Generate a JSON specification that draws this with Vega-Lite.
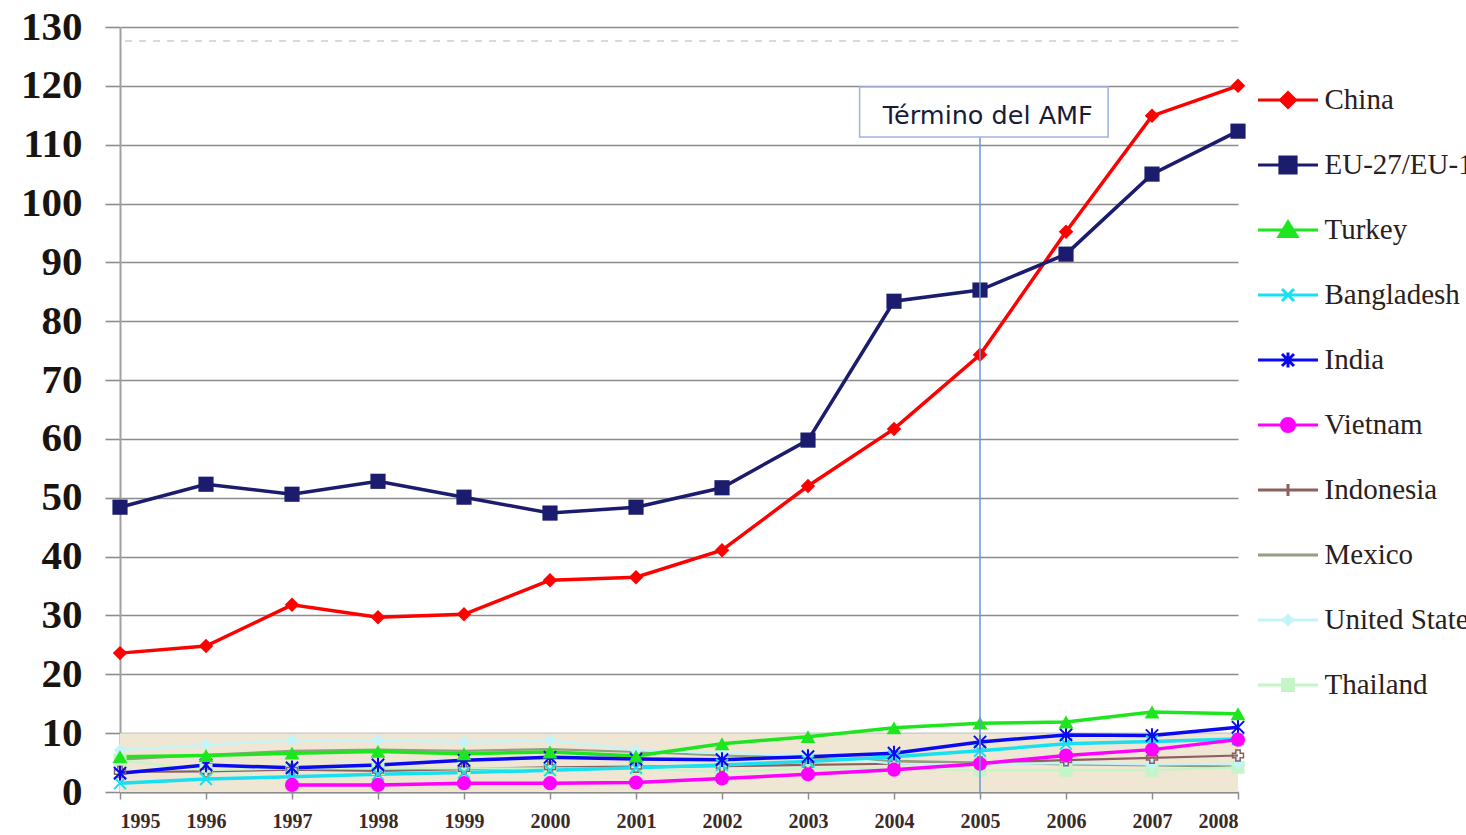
{
  "$schema": "https://vega.github.io/schema/vega-lite/v6.json",
  "autosize": "none",
  "width": 1118,
  "height": 765,
  "padding": {"left": 120, "top": 27, "right": 228, "bottom": 43},
  "background": "white",
  "config": {
    "view": {"stroke": null},
    "axis": {"labelFont": "Liberation Serif", "titleFont": "Liberation Serif"}
  },
  "data": {
    "values": [
      {"country": "China", "year": 1995, "value": 23.6},
      {"country": "China", "year": 1996, "value": 24.8},
      {"country": "China", "year": 1997, "value": 31.8},
      {"country": "China", "year": 1998, "value": 29.7},
      {"country": "China", "year": 1999, "value": 30.2},
      {"country": "China", "year": 2000, "value": 36.0},
      {"country": "China", "year": 2001, "value": 36.5},
      {"country": "China", "year": 2002, "value": 41.1},
      {"country": "China", "year": 2003, "value": 52.0},
      {"country": "China", "year": 2004, "value": 61.7},
      {"country": "China", "year": 2005, "value": 74.3},
      {"country": "China", "year": 2006, "value": 95.2},
      {"country": "China", "year": 2007, "value": 114.9},
      {"country": "China", "year": 2008, "value": 120.0},
      {"country": "EU-27/EU-15", "year": 1995, "value": 48.4},
      {"country": "EU-27/EU-15", "year": 1996, "value": 52.3},
      {"country": "EU-27/EU-15", "year": 1997, "value": 50.6},
      {"country": "EU-27/EU-15", "year": 1998, "value": 52.8},
      {"country": "EU-27/EU-15", "year": 1999, "value": 50.1},
      {"country": "EU-27/EU-15", "year": 2000, "value": 47.4},
      {"country": "EU-27/EU-15", "year": 2001, "value": 48.4},
      {"country": "EU-27/EU-15", "year": 2002, "value": 51.7},
      {"country": "EU-27/EU-15", "year": 2003, "value": 59.8},
      {"country": "EU-27/EU-15", "year": 2004, "value": 83.4},
      {"country": "EU-27/EU-15", "year": 2005, "value": 85.3},
      {"country": "EU-27/EU-15", "year": 2006, "value": 91.4},
      {"country": "EU-27/EU-15", "year": 2007, "value": 105.0},
      {"country": "EU-27/EU-15", "year": 2008, "value": 112.3},
      {"country": "Turkey", "year": 1995, "value": 6.0},
      {"country": "Turkey", "year": 1996, "value": 6.2},
      {"country": "Turkey", "year": 1997, "value": 6.6},
      {"country": "Turkey", "year": 1998, "value": 6.9},
      {"country": "Turkey", "year": 1999, "value": 6.5},
      {"country": "Turkey", "year": 2000, "value": 6.8},
      {"country": "Turkey", "year": 2001, "value": 6.1},
      {"country": "Turkey", "year": 2002, "value": 8.2},
      {"country": "Turkey", "year": 2003, "value": 9.4},
      {"country": "Turkey", "year": 2004, "value": 10.9},
      {"country": "Turkey", "year": 2005, "value": 11.7},
      {"country": "Turkey", "year": 2006, "value": 11.9},
      {"country": "Turkey", "year": 2007, "value": 13.6},
      {"country": "Turkey", "year": 2008, "value": 13.3},
      {"country": "Bangladesh", "year": 1995, "value": 1.5},
      {"country": "Bangladesh", "year": 1996, "value": 2.2},
      {"country": "Bangladesh", "year": 1997, "value": 2.6},
      {"country": "Bangladesh", "year": 1998, "value": 3.0},
      {"country": "Bangladesh", "year": 1999, "value": 3.3},
      {"country": "Bangladesh", "year": 2000, "value": 3.7},
      {"country": "Bangladesh", "year": 2001, "value": 4.1},
      {"country": "Bangladesh", "year": 2002, "value": 4.6},
      {"country": "Bangladesh", "year": 2003, "value": 5.2},
      {"country": "Bangladesh", "year": 2004, "value": 6.0},
      {"country": "Bangladesh", "year": 2005, "value": 7.0},
      {"country": "Bangladesh", "year": 2006, "value": 8.2},
      {"country": "Bangladesh", "year": 2007, "value": 8.6},
      {"country": "Bangladesh", "year": 2008, "value": 9.0},
      {"country": "India", "year": 1995, "value": 3.2},
      {"country": "India", "year": 1996, "value": 4.6},
      {"country": "India", "year": 1997, "value": 4.1},
      {"country": "India", "year": 1998, "value": 4.6},
      {"country": "India", "year": 1999, "value": 5.4},
      {"country": "India", "year": 2000, "value": 5.9},
      {"country": "India", "year": 2001, "value": 5.6},
      {"country": "India", "year": 2002, "value": 5.5},
      {"country": "India", "year": 2003, "value": 6.0},
      {"country": "India", "year": 2004, "value": 6.6},
      {"country": "India", "year": 2005, "value": 8.5},
      {"country": "India", "year": 2006, "value": 9.7},
      {"country": "India", "year": 2007, "value": 9.6},
      {"country": "India", "year": 2008, "value": 11.0},
      {"country": "Vietnam", "year": 1997, "value": 1.2},
      {"country": "Vietnam", "year": 1998, "value": 1.2},
      {"country": "Vietnam", "year": 1999, "value": 1.5},
      {"country": "Vietnam", "year": 2000, "value": 1.5},
      {"country": "Vietnam", "year": 2001, "value": 1.6},
      {"country": "Vietnam", "year": 2002, "value": 2.3},
      {"country": "Vietnam", "year": 2003, "value": 3.0},
      {"country": "Vietnam", "year": 2004, "value": 3.8},
      {"country": "Vietnam", "year": 2005, "value": 4.8},
      {"country": "Vietnam", "year": 2006, "value": 6.2},
      {"country": "Vietnam", "year": 2007, "value": 7.2},
      {"country": "Vietnam", "year": 2008, "value": 8.9},
      {"country": "Indonesia", "year": 1995, "value": 3.4},
      {"country": "Indonesia", "year": 1996, "value": 3.5},
      {"country": "Indonesia", "year": 1997, "value": 3.8},
      {"country": "Indonesia", "year": 1998, "value": 3.6},
      {"country": "Indonesia", "year": 1999, "value": 3.9},
      {"country": "Indonesia", "year": 2000, "value": 4.2},
      {"country": "Indonesia", "year": 2001, "value": 4.3},
      {"country": "Indonesia", "year": 2002, "value": 4.4},
      {"country": "Indonesia", "year": 2003, "value": 4.6},
      {"country": "Indonesia", "year": 2004, "value": 4.8},
      {"country": "Indonesia", "year": 2005, "value": 5.0},
      {"country": "Indonesia", "year": 2006, "value": 5.4},
      {"country": "Indonesia", "year": 2007, "value": 5.8},
      {"country": "Indonesia", "year": 2008, "value": 6.2},
      {"country": "Mexico", "year": 1995, "value": 5.5},
      {"country": "Mexico", "year": 1996, "value": 6.3},
      {"country": "Mexico", "year": 1997, "value": 7.0},
      {"country": "Mexico", "year": 1998, "value": 7.2},
      {"country": "Mexico", "year": 1999, "value": 7.0},
      {"country": "Mexico", "year": 2000, "value": 7.3},
      {"country": "Mexico", "year": 2001, "value": 6.8},
      {"country": "Mexico", "year": 2002, "value": 6.2},
      {"country": "Mexico", "year": 2003, "value": 5.8},
      {"country": "Mexico", "year": 2004, "value": 5.3},
      {"country": "Mexico", "year": 2005, "value": 5.0},
      {"country": "Mexico", "year": 2006, "value": 4.7},
      {"country": "Mexico", "year": 2007, "value": 4.5},
      {"country": "Mexico", "year": 2008, "value": 4.3},
      {"country": "United States", "year": 1995, "value": 7.1},
      {"country": "United States", "year": 1996, "value": 8.0},
      {"country": "United States", "year": 1997, "value": 8.8},
      {"country": "United States", "year": 1998, "value": 8.8},
      {"country": "United States", "year": 1999, "value": 8.5},
      {"country": "United States", "year": 2000, "value": 8.8},
      {"country": "United States", "year": 2001, "value": 7.1},
      {"country": "United States", "year": 2002, "value": 6.6},
      {"country": "United States", "year": 2003, "value": 6.3},
      {"country": "United States", "year": 2004, "value": 4.8},
      {"country": "United States", "year": 2005, "value": 4.7},
      {"country": "United States", "year": 2006, "value": 4.9},
      {"country": "United States", "year": 2007, "value": 4.7},
      {"country": "United States", "year": 2008, "value": 4.8},
      {"country": "Thailand", "year": 1995, "value": 5.4},
      {"country": "Thailand", "year": 1996, "value": 3.7},
      {"country": "Thailand", "year": 1997, "value": 4.0},
      {"country": "Thailand", "year": 1998, "value": 4.0},
      {"country": "Thailand", "year": 1999, "value": 4.0},
      {"country": "Thailand", "year": 2000, "value": 4.0},
      {"country": "Thailand", "year": 2001, "value": 4.0},
      {"country": "Thailand", "year": 2002, "value": 3.4},
      {"country": "Thailand", "year": 2003, "value": 4.0},
      {"country": "Thailand", "year": 2004, "value": 4.0},
      {"country": "Thailand", "year": 2005, "value": 3.7},
      {"country": "Thailand", "year": 2006, "value": 3.7},
      {"country": "Thailand", "year": 2007, "value": 3.7},
      {"country": "Thailand", "year": 2008, "value": 4.2}
    ]
  },
  "encoding": {
    "x": {
      "field": "year", "type": "quantitative",
      "scale": {"domain": [1995, 2008], "nice": false, "zero": false},
      "axis": {
        "values": [1995, 1996, 1997, 1998, 1999, 2000, 2001, 2002, 2003, 2004, 2005, 2006, 2007, 2008],
        "format": "d", "title": null, "grid": false,
        "tickSize": 7, "tickColor": "#8c8c8c", "tickWidth": 1.5,
        "domainColor": "#8c8c8c", "domainWidth": 2,
        "labelFont": "Liberation Serif", "labelFontSize": 20, "labelFontWeight": "bold",
        "labelColor": "#3a2a2a", "labelPadding": 12, "labelOverlap": false, "labelBound": false
      }
    },
    "y": {
      "field": "value", "type": "quantitative",
      "scale": {"domain": [0, 130], "nice": false, "zero": true},
      "axis": {
        "values": [0, 10, 20, 30, 40, 50, 60, 70, 80, 90, 100, 110, 120, 130],
        "title": null, "grid": true, "gridColor": "#8c8c8c", "gridWidth": 1.6,
        "tickSize": 15, "tickColor": "#8c8c8c", "tickWidth": 1.6,
        "domainColor": "#a0a0a0", "domainWidth": 2,
        "labelFont": "Liberation Serif", "labelFontSize": 41, "labelFontWeight": "bold",
        "labelColor": "#1a1410", "labelPadding": 23, "labelOverlap": false, "labelBound": false
      }
    },
    "color": {
      "field": "country", "type": "nominal",
      "scale": {
        "domain": ["China", "EU-27/EU-15", "Turkey", "Bangladesh", "India", "Vietnam", "Indonesia", "Mexico", "United States", "Thailand"],
        "range": ["#FF0000", "#1C1C6E", "#1EE61E", "#18E0F0", "#0A0AF0", "#FF00FF", "#8B6060", "#8FA080", "#C2F4FA", "#C4F5C6"]
      },
      "legend": null
    }
  },
  "layer": [
    {
      "transform": [{"filter": "false"}],
      "mark": {"type": "point", "filled": true, "opacity": 1, "strokeWidth": 3},
      "encoding": {
        "x": null,
        "y": null,
        "color": {
          "field": "country", "type": "nominal",
          "legend": {
            "orient": "none", "legendX": 1138, "legendY": 41.5, "title": null,
            "symbolSize": 3600, "symbolStrokeWidth": 3, "symbolOffset": -1.5, "rowPadding": 18, "padding": 0,
            "labelFont": "Liberation Serif", "labelFontSize": 29, "labelColor": "#2a2020",
            "labelLimit": 600, "labelOffset": 5
          }
        },
        "stroke": {
          "field": "country", "type": "nominal",
          "scale": {
            "domain": ["China", "EU-27/EU-15", "Turkey", "Bangladesh", "India", "Vietnam", "Indonesia", "Mexico", "United States", "Thailand"],
            "range": ["#FF0000", "#1C1C6E", "#1EE61E", "#18E0F0", "#0A0AF0", "#FF00FF", "#8B6060", "#8FA080", "#C2F4FA", "#C4F5C6"]
          },
          "legend": {
            "orient": "none", "legendX": 1138, "legendY": 41.5, "title": null,
            "symbolSize": 3600, "symbolStrokeWidth": 3, "symbolOffset": -1.5, "rowPadding": 18, "padding": 0,
            "labelFont": "Liberation Serif", "labelFontSize": 29, "labelColor": "#2a2020",
            "labelLimit": 600, "labelOffset": 5
          }
        },
        "shape": {
          "field": "country", "type": "nominal",
          "scale": {
            "domain": ["China", "EU-27/EU-15", "Turkey", "Bangladesh", "India", "Vietnam", "Indonesia", "Mexico", "United States", "Thailand"],
            "range": [
              "M-1,0L1,0M0,-0.25L0.25,0L0,0.25L-0.25,0Z",
              "M-1,0L1,0M-0.27,-0.27L0.27,-0.27L0.27,0.27L-0.27,0.27Z",
              "M-1,0L1,0M0,-0.27L0.3,0.22L-0.3,0.22Z",
              "M-1,0L1,0M-0.2,-0.2L0.2,0.2M-0.2,0.2L0.2,-0.2",
              "M-1,0L1,0M-0.2,-0.2L0.2,0.2M-0.2,0.2L0.2,-0.2M0,-0.25L0,0.25",
              "M-1,0L1,0M-0.22,0A0.22,0.22,0,1,1,0.22,0A0.22,0.22,0,1,1,-0.22,0Z",
              "M-1,0L1,0M0,-0.2L0,0.2",
              "M-1,0L1,0",
              "M-1,0L1,0M0,-0.15L0.15,0L0,0.15L-0.15,0Z",
              "M-1,0L1,0M-0.18,-0.18L0.18,-0.18L0.18,0.18L-0.18,0.18Z"
            ]
          },
          "legend": {
            "orient": "none", "legendX": 1138, "legendY": 41.5, "title": null,
            "symbolSize": 3600, "symbolStrokeWidth": 3, "symbolOffset": -1.5, "rowPadding": 18, "padding": 0,
            "labelFont": "Liberation Serif", "labelFontSize": 29, "labelColor": "#2a2020",
            "labelLimit": 600, "labelOffset": 5
          }
        }
      }
    },
    {
      "data": {"values": [{"from": 1995, "to": 2008, "low": 0, "high": 10}]},
      "mark": {"type": "rect", "color": "#EFE7D4"},
      "encoding": {
        "x": {"field": "from", "type": "quantitative"},
        "x2": {"field": "to"},
        "y": {"field": "low", "type": "quantitative"},
        "y2": {"field": "high"},
        "color": null
      }
    },
    {
      "data": {"values": [{"level": 127.6}]},
      "mark": {"type": "rule", "color": "#C3CEDA", "strokeWidth": 1.5, "strokeDash": [7, 7]},
      "encoding": {
        "x": null,
        "y": {"field": "level", "type": "quantitative"},
        "color": null
      }
    },
    {
      "transform": [{"filter": "indexof(['Indonesia','Mexico','United States','Thailand'], datum.country) >= 0"}],
      "mark": {"type": "line", "strokeWidth": 2.2}
    },
    {
      "transform": [{"filter": "indexof(['Indonesia','Mexico','United States','Thailand'], datum.country) < 0"}],
      "mark": {"type": "line", "strokeWidth": 3.5}
    },
    {"transform": [{"filter": "datum.country === 'Thailand'"}], "mark": {"type": "point", "shape": "square", "filled": true, "size": 170, "opacity": 1}},
    {"transform": [{"filter": "datum.country === 'United States'"}], "mark": {"type": "point", "shape": "diamond", "filled": true, "size": 150, "opacity": 1}},
    {"transform": [{"filter": "datum.country === 'Indonesia'"}], "mark": {"type": "point", "shape": "cross", "filled": false, "size": 120, "strokeWidth": 1.5, "opacity": 1}},
    {"transform": [{"filter": "datum.country === 'Bangladesh'"}], "mark": {"type": "point", "shape": "M-1,-1L1,1M-1,1L1,-1", "filled": false, "size": 140, "strokeWidth": 2, "opacity": 1}},
    {"transform": [{"filter": "datum.country === 'India'"}], "mark": {"type": "point", "shape": "M-1,-1L1,1M-1,1L1,-1M0,-1.2L0,1.2", "filled": false, "size": 150, "strokeWidth": 2, "opacity": 1}},
    {"transform": [{"filter": "datum.country === 'Vietnam'"}], "mark": {"type": "point", "shape": "circle", "filled": true, "size": 200, "opacity": 1}},
    {"transform": [{"filter": "datum.country === 'Turkey'"}], "mark": {"type": "point", "shape": "triangle-up", "filled": true, "size": 220, "opacity": 1}},
    {"transform": [{"filter": "datum.country === 'China'"}], "mark": {"type": "point", "shape": "diamond", "filled": true, "size": 210, "opacity": 1}},
    {"transform": [{"filter": "datum.country === 'EU-27/EU-15'"}], "mark": {"type": "point", "shape": "square", "filled": true, "size": 230, "opacity": 1}},
    {
      "data": {"values": [{"year": 2005, "low": 0, "high": 111.3}]},
      "mark": {"type": "rule", "color": "#6A96D2", "strokeWidth": 1.5},
      "encoding": {
        "x": {"field": "year", "type": "quantitative"},
        "y": {"field": "low", "type": "quantitative"},
        "y2": {"field": "high"},
        "color": null
      }
    },
    {
      "data": {"values": [{"label": "Término del AMF", "x0": 2003.6, "x1": 2006.49, "y0": 111.3, "y1": 119.8, "tx": 2003.87, "ty": 114.9}]},
      "encoding": {"color": null},
      "layer": [
        {
          "mark": {"type": "rect", "fill": "white", "stroke": "#9DB5DB", "strokeWidth": 1.5},
          "encoding": {
            "x": {"field": "x0", "type": "quantitative"},
            "x2": {"field": "x1"},
            "y": {"field": "y0", "type": "quantitative"},
            "y2": {"field": "y1"}
          }
        },
        {
          "mark": {"type": "text", "align": "left", "baseline": "middle", "font": "DejaVu Sans", "fontSize": 25.5, "color": "#1a1a3a"},
          "encoding": {
            "x": {"field": "tx", "type": "quantitative"},
            "y": {"field": "ty", "type": "quantitative"},
            "text": {"field": "label"}
          }
        }
      ]
    }
  ]
}
